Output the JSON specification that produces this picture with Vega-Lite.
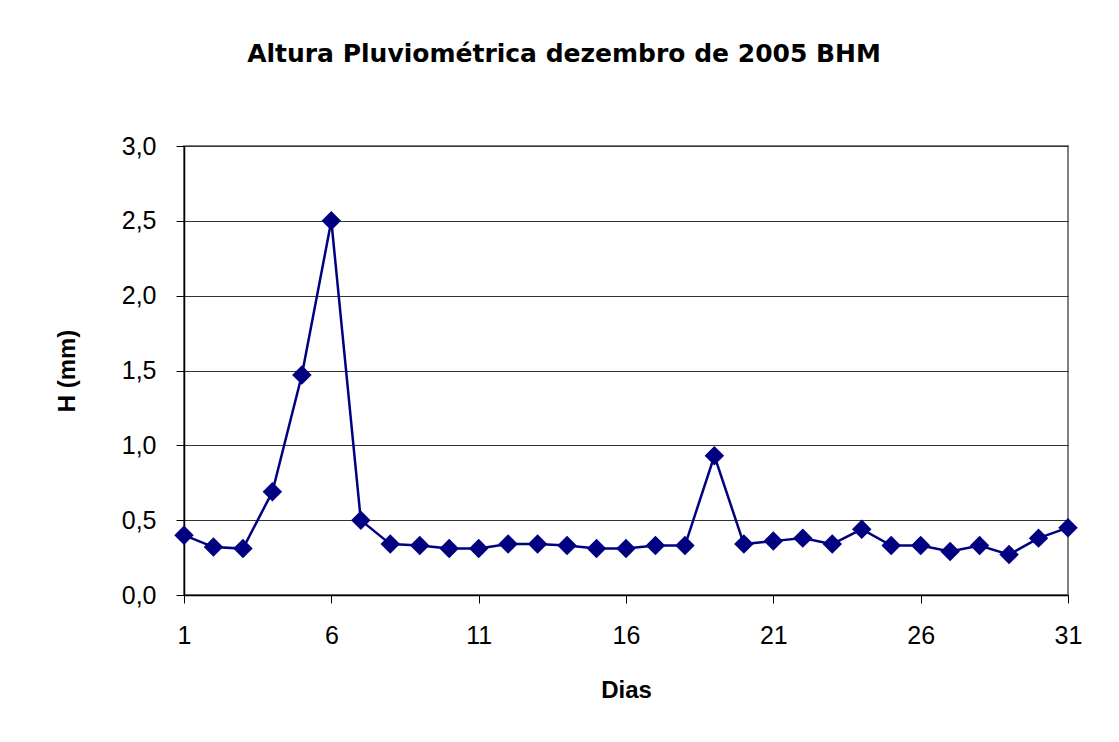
{
  "$schema": "https://vega.github.io/schema/vega-lite/v6.json",
  "autosize": "none",
  "padding": {"left": 184, "top": 146, "right": 51, "bottom": 147},
  "width": 884,
  "height": 449,
  "background": "white",
  "title": {
    "text": "Altura Pluviométrica dezembro de 2005 BHM",
    "font": "DejaVu Sans",
    "fontSize": 25,
    "fontWeight": "bold",
    "color": "black",
    "anchor": "middle",
    "frame": "group",
    "dx": -62,
    "offset": 67
  },
  "data": {
    "values": [
      {"dia": 1, "h": 0.40}, {"dia": 2, "h": 0.32}, {"dia": 3, "h": 0.31},
      {"dia": 4, "h": 0.69}, {"dia": 5, "h": 1.47}, {"dia": 6, "h": 2.50},
      {"dia": 7, "h": 0.50}, {"dia": 8, "h": 0.34}, {"dia": 9, "h": 0.33},
      {"dia": 10, "h": 0.31}, {"dia": 11, "h": 0.31}, {"dia": 12, "h": 0.34},
      {"dia": 13, "h": 0.34}, {"dia": 14, "h": 0.33}, {"dia": 15, "h": 0.31},
      {"dia": 16, "h": 0.31}, {"dia": 17, "h": 0.33}, {"dia": 18, "h": 0.33},
      {"dia": 19, "h": 0.93}, {"dia": 20, "h": 0.34}, {"dia": 21, "h": 0.36},
      {"dia": 22, "h": 0.38}, {"dia": 23, "h": 0.34}, {"dia": 24, "h": 0.44},
      {"dia": 25, "h": 0.33}, {"dia": 26, "h": 0.33}, {"dia": 27, "h": 0.29},
      {"dia": 28, "h": 0.33}, {"dia": 29, "h": 0.27}, {"dia": 30, "h": 0.38},
      {"dia": 31, "h": 0.45}
    ]
  },
  "mark": {
    "type": "line",
    "color": "#000080",
    "strokeWidth": 2.5,
    "point": {"shape": "diamond", "size": 380, "filled": true, "color": "#000080", "opacity": 1}
  },
  "encoding": {
    "x": {
      "field": "dia",
      "type": "quantitative",
      "scale": {"domain": [1, 31], "nice": false, "zero": false},
      "axis": {
        "title": "Dias",
        "values": [1, 6, 11, 16, 21, 26, 31],
        "grid": false,
        "labelFlush": false,
        "labelOverlap": false,
        "labelPadding": 20,
        "titlePadding": 30
      }
    },
    "y": {
      "field": "h",
      "type": "quantitative",
      "scale": {"domain": [0, 3], "nice": false},
      "axis": {
        "title": "H (mm)",
        "values": [0, 0.5, 1, 1.5, 2, 2.5, 3],
        "labelExpr": "replace(format(datum.value, '.1f'), '.', ',')",
        "grid": true,
        "labelFlush": false,
        "labelOverlap": false,
        "labelPadding": 20,
        "titlePadding": 42
      }
    }
  },
  "config": {
    "view": {"stroke": "#808080", "strokeWidth": 2},
    "axis": {
      "labelFont": "Liberation Sans",
      "labelFontSize": 25,
      "labelColor": "black",
      "titleFont": "Liberation Sans",
      "titleFontSize": 24,
      "titleFontWeight": "bold",
      "titleColor": "black",
      "domainColor": "black",
      "domainWidth": 1.5,
      "tickColor": "black",
      "tickSize": 8,
      "tickWidth": 1,
      "gridColor": "#333333",
      "gridWidth": 1,
      "gridOpacity": 1
    }
  }
}
